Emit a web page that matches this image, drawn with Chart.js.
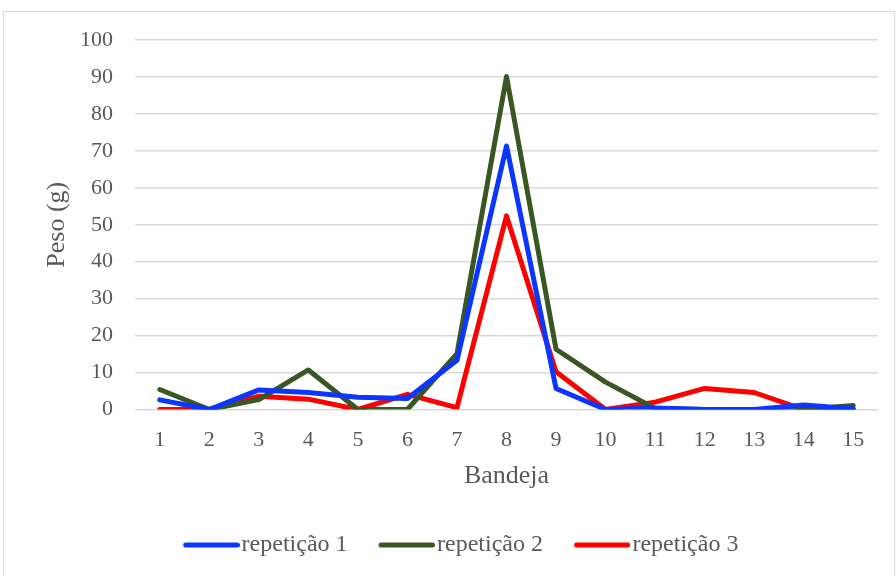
<!DOCTYPE html>
<html>
<head>
<meta charset="utf-8">
<script src="https://cdn.jsdelivr.net/npm/chart.js"></script>
<style>
  body { margin: 0; background: #fff; }
  #wrap { position: relative; width: 896px; height: 576px; }
  #frame { position: absolute; left: 3px; top: 11px; width: 890px; height: 570px; border: 1px solid #d9d9d9; }
  canvas#chart { position: absolute; left: 0; top: 0; }
</style>
</head>
<body>
<div id="wrap">
  <div id="frame"></div>
  <canvas id="chart" width="896" height="576"></canvas>
</div>
<script>
var bandejas = ['1', '2', '3', '4', '5', '6', '7', '8', '9', '10', '11', '12', '13', '14', '15'];
var repeticao1 = [2.6, 0, 5.3, 4.6, 3.3, 3.0, 13.3, 71.3, 5.7, 0, 0.4, 0, 0, 1.2, 0.2];
var repeticao2 = [5.4, 0, 2.7, 10.7, 0, 0, 15.1, 90.1, 16.3, 7.4, 0.3, 0, 0, 0, 1.1];
var repeticao3 = [0, 0, 3.6, 2.8, 0, 4.1, 0.5, 52.4, 10.2, 0, 2.0, 5.7, 4.6, 0, 0];
var yTicks = [0, 10, 20, 30, 40, 50, 60, 70, 80, 90, 100];

var fonte = 'Liberation Serif';
var cinza = '#595959';

// amostra da legenda: linha grossa com pontas redondas, encostada ao texto
function amostra(cor) {
    var c = document.createElement('canvas');
    c.width = 68;
    c.height = 8;
    var g = c.getContext('2d');
    g.strokeStyle = cor;
    g.lineWidth = 5;
    g.lineCap = 'round';
    g.beginPath();
    g.moveTo(14, 4);
    g.lineTo(65.5, 4);
    g.stroke();
    return c;
}

function serie(nome, dados, cor) {
    return {
        label: nome,
        data: dados,
        borderColor: cor,
        backgroundColor: cor,
        borderWidth: 5,
        borderCapStyle: 'round',
        borderJoinStyle: 'round',
        pointRadius: 0,
        pointHoverRadius: 0,
        pointStyle: amostra(cor),
        tension: 0
    };
}

var ctx = document.getElementById('chart').getContext('2d');
var grafico = new Chart(ctx, {
    type: 'line',
    data: {
        labels: bandejas,
        datasets: [
            serie('repetição 1', repeticao1, '#0a36ff'),
            serie('repetição 2', repeticao2, '#385723'),
            serie('repetição 3', repeticao3, '#ff0000')
        ]
    },
    options: {
        responsive: false,
        animation: false,
        layout: { padding: { left: 42, right: 18, top: 40, bottom: 9 } },
        plugins: {
            legend: {
                position: 'bottom',
                labels: {
                    usePointStyle: true,
                    pointStyleWidth: 48,
                    boxHeight: 8,
                    padding: 29.5,
                    color: cinza,
                    font: { family: fonte, size: 24 }
                }
            },
            tooltip: { enabled: false }
        },
        scales: {
            x: {
                offset: true,
                afterFit: function (axis) {
                    axis.height = 94;
                },
                grid: { display: false, drawTicks: false },
                border: { display: false },
                ticks: { color: cinza, padding: 18, font: { family: fonte, size: 22 } },
                title: { display: true, text: 'Bandeja', color: cinza, padding: { top: 0, bottom: 12 }, font: { family: fonte, size: 26 } }
            },
            y: {
                min: 0,
                max: 100,
                afterBuildTicks: function (axis) {
                    axis.ticks = yTicks.map(function (v) { return { value: v }; });
                },
                afterFit: function (axis) {
                    axis.width = 93;
                },
                grid: { color: '#d9d9d9', lineWidth: 1.5, drawTicks: false },
                border: { display: false },
                ticks: { color: cinza, padding: 22, font: { family: fonte, size: 22 } },
                title: { display: true, text: 'Peso (g)', color: cinza, padding: { top: 0, bottom: 0 }, font: { family: fonte, size: 26 } }
            }
        }
    }
});
</script>
</body>
</html>
